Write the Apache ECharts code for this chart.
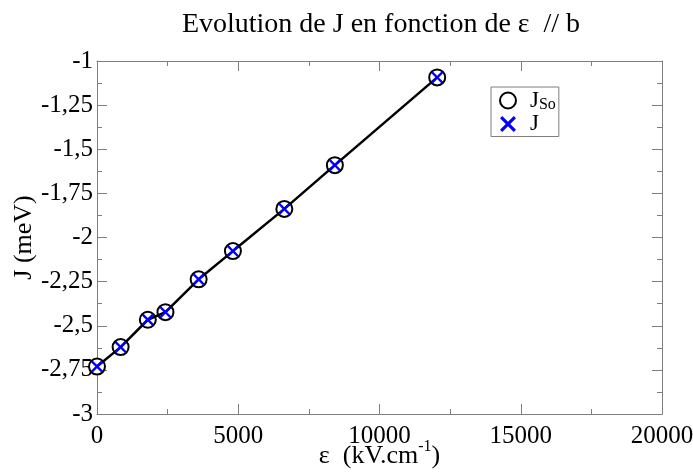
<!DOCTYPE html>
<html>
<head>
<meta charset="utf-8">
<script src="https://cdn.jsdelivr.net/npm/echarts@6/dist/echarts.min.js"></script>
<style>html,body{margin:0;padding:0;background:#fff}#c{width:693px;height:474px}</style>
</head>
<body>
<div id="c"></div>
<script>
// Data
const epsilon = [0, 836, 1799, 2423, 3598, 4811, 6631, 8420, 12042];
const jSo = [-2.731, -2.621, -2.466, -2.423, -2.237, -2.077, -1.838, -1.590, -1.093];
const jVals = [-2.731, -2.621, -2.466, -2.423, -2.237, -2.077, -1.838, -1.590, -1.093];
const xTicks = [0, 5000, 10000, 15000, 20000];
const yTicks = [-3, -2.75, -2.5, -2.25, -2, -1.75, -1.5, -1.25, -1];

const FONT = 'Liberation Serif';
const AX = '#7f7f7f';
const pairs = (xs, ys) => xs.map((x, i) => [x, ys[i]]);
const crossPath = 'path://M0,1.4L1.4,0L5,3.6L8.6,0L10,1.4L6.4,5L10,8.6L8.6,10L5,6.4L1.4,10L0,8.6L3.6,5Z';

const chart = echarts.init(document.getElementById('c'), null, {renderer: 'canvas'});

function xAxisCfg(pos, labels) {
  return {
    type: 'value', position: pos,
    min: xTicks[0], max: xTicks[xTicks.length - 1], interval: xTicks[1] - xTicks[0],
    axisLine: {show: true, onZero: false, lineStyle: {color: AX, width: 1}},
    axisTick: {show: true, inside: true, length: 10, lineStyle: {color: AX}},
    minorTick: {show: true, splitNumber: 2, length: 5, lineStyle: {color: AX}},
    splitLine: {show: false},
    axisLabel: {show: labels, color: '#000', fontFamily: FONT, fontSize: 25, margin: 10,
      formatter: v => String(v)},
    name: labels ? '{a|ε  (kV.cm}{s|-1}{a|)}' : '',
    nameLocation: 'middle', nameGap: 25, nameMoveOverlap: false,
    nameTextStyle: {
      color: '#000', fontFamily: FONT, fontSize: 26,
      rich: {
        a: {fontFamily: FONT, fontSize: 26, color: '#000', verticalAlign: 'bottom', lineHeight: 30},
        s: {fontFamily: FONT, fontSize: 16, color: '#000', verticalAlign: 'top', lineHeight: 30}
      }
    }
  };
}
function yAxisCfg(pos, labels) {
  return {
    type: 'value', position: pos,
    min: yTicks[0], max: yTicks[yTicks.length - 1], interval: yTicks[1] - yTicks[0],
    axisLine: {show: true, onZero: false, lineStyle: {color: AX, width: 1}},
    axisTick: {show: true, inside: true, length: 10, lineStyle: {color: AX}},
    minorTick: {show: true, splitNumber: 2, length: 5, lineStyle: {color: AX}},
    splitLine: {show: false},
    axisLabel: {show: labels, color: '#000', fontFamily: FONT, fontSize: 25, margin: 4,
      formatter: v => String(Math.round(v * 100) / 100).replace('.', ',')},
    name: labels ? 'J (meV)' : '',
    nameLocation: 'middle', nameGap: 60, nameRotate: 90, nameMoveOverlap: false,
    nameTextStyle: {color: '#000', fontFamily: FONT, fontSize: 26}
  };
}

chart.setOption({
  animation: false,
  backgroundColor: '#fff',
  title: {
    text: 'Evolution de J en fonction de ε  // b',
    left: 376, top: 6, textAlign: 'center',
    textStyle: {fontFamily: FONT, fontSize: 28, fontWeight: 'normal', color: '#000'}
  },
  grid: {left: 97, right: 31, top: 61, bottom: 60, containLabel: false, outerBoundsMode: 'none'},
  xAxis: [xAxisCfg('bottom', true), xAxisCfg('top', false)],
  yAxis: [yAxisCfg('left', true), yAxisCfg('right', false)],
  legend: {
    orient: 'vertical', left: 491, top: 87,
    padding: [2, 3, 1, 8], itemGap: 0, itemWidth: 16, itemHeight: 16,
    borderColor: AX, borderWidth: 1,
    data: ['J_So', 'J'],
    formatter: n => n === 'J_So' ? '{m|J}{s|So}' : '{m|J}',
    textStyle: {
      fontFamily: FONT, fontSize: 23, color: '#000',
      rich: {
        m: {fontFamily: FONT, fontSize: 23, color: '#000', verticalAlign: 'middle', lineHeight: 24, padding: [0, 0, 0, 9]},
        s: {fontFamily: FONT, fontSize: 16, color: '#000', verticalAlign: 'bottom', lineHeight: 12}
      }
    }
  },
  series: [
    {
      name: 'J_So', type: 'scatter', data: pairs(epsilon, jSo),
      symbol: 'emptyCircle', symbolSize: 16, z: 2,
      itemStyle: {color: '#000', borderColor: '#000', borderWidth: 2.5, opacity: 1}
    },
    {
      name: 'fit', type: 'line', data: pairs(epsilon, jSo),
      showSymbol: false, symbol: 'none', z: 3,
      lineStyle: {color: '#000', width: 2.5}
    },
    {
      name: 'J', type: 'scatter', data: pairs(epsilon, jVals),
      symbol: crossPath, symbolSize: 12, z: 4,
      itemStyle: {color: '#0000ff', opacity: 1}
    }
  ]
});
</script>
</body>
</html>
